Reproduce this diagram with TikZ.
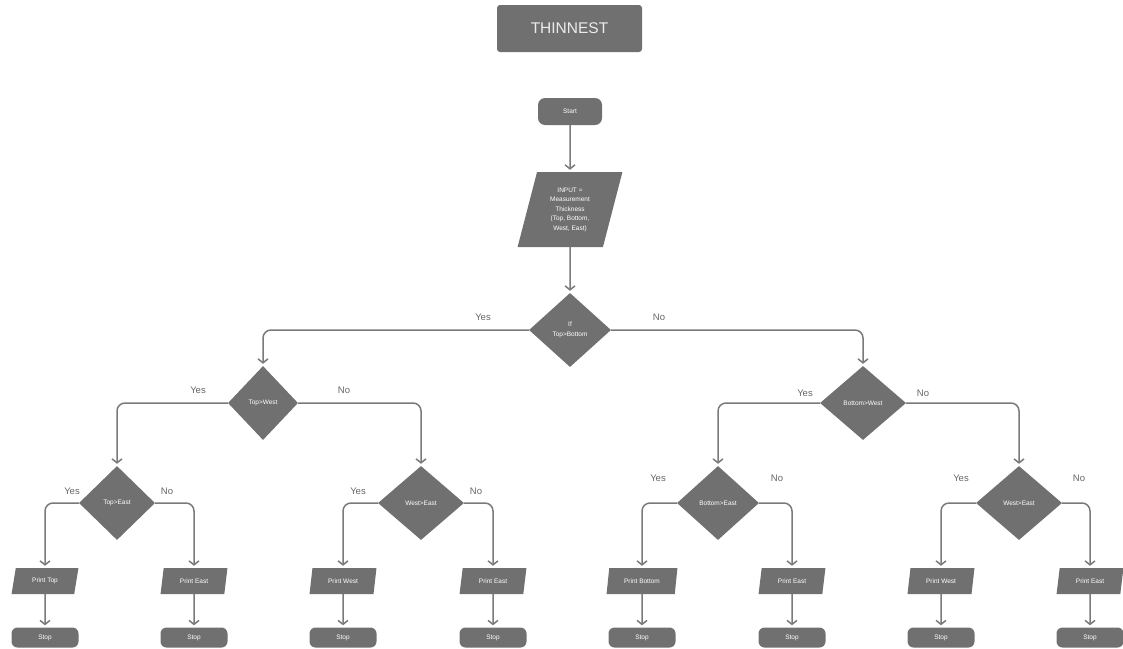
\documentclass[tikz,border=0pt]{standalone}
\usepackage{fontspec}
\setmainfont{Liberation Sans}
\usetikzlibrary{shapes.geometric,arrows.meta}
\definecolor{boxgray}{HTML}{707070}
\definecolor{linegray}{HTML}{7A7A7A}
\definecolor{lblgray}{HTML}{666666}
\begin{document}
\begin{tikzpicture}[x=1pt,y=-1pt,
  box/.style={fill=boxgray, text=white, font=\fontsize{6.5}{9.5}\selectfont, align=center, inner sep=0pt},
  term/.style={box, rounded corners=7pt, minimum width=64pt, minimum height=27pt},
  stopbox/.style={box, rounded corners=6pt, minimum width=67pt, minimum height=20pt},
  dec/.style={box, diamond, aspect=1, minimum width=#1, minimum height=74pt},
  para/.style={box, trapezium, trapezium left angle=73, trapezium right angle=107, trapezium stretches=true, minimum width=#1, minimum height=26pt},
  arr/.style={draw=linegray, line width=1.5pt, -{Straight Barb[length=4pt,width=10pt]}, shorten >=2pt},
  lbl/.style={text=lblgray, font=\fontsize{9.5}{11}\selectfont, inner sep=0pt}
]
\useasboundingbox (0,0) rectangle (1123,648);

\node[box, rounded corners=3pt, minimum width=145pt, minimum height=47pt, font=\fontsize{15.5}{18}\selectfont, text=white!92!black] (title) at (569.5,28.5) {THINNEST};

\node[term] (start) at (570,111.5) {Start};
\node[box, trapezium, trapezium left angle=75, trapezium right angle=105, trapezium stretches=true, minimum width=105pt, minimum height=75pt] (input) at (570,209.5) {INPUT =\\Measurement\\Thickness\\(Top, Bottom,\\West, East)};

\node[dec=82pt] (d0) at (570,330) {If\\Top>Bottom};
\node[dec=70pt] (d1) at (263,403) {Top>West};
\node[dec=86pt] (d2) at (863,403) {Bottom>West};
\node[dec=76pt] (d3) at (117,503) {Top>East};
\node[dec=86pt] (d4) at (421,503) {West>East};
\node[dec=82pt] (d5) at (718,503) {Bottom>East};
\node[dec=86pt] (d6) at (1019,503) {West>East};

\node[para=67pt] (p1) at (45,581) {Print Top};
\node[para=67pt] (p2) at (194,581) {Print East};
\node[para=67pt] (p3) at (343,581) {Print West};
\node[para=67pt] (p4) at (493,581) {Print East};
\node[para=71pt] (p5) at (642,581) {Print Bottom};
\node[para=67pt] (p6) at (792,581) {Print East};
\node[para=67pt] (p7) at (941,581) {Print West};
\node[para=67pt] (p8) at (1090,581) {Print East};

\node[stopbox] (s1) at (45,637.5) {Stop};
\node[stopbox] (s2) at (194,637.5) {Stop};
\node[stopbox] (s3) at (343,637.5) {Stop};
\node[stopbox] (s4) at (493,637.5) {Stop};
\node[stopbox] (s5) at (642,637.5) {Stop};
\node[stopbox] (s6) at (792,637.5) {Stop};
\node[stopbox] (s7) at (941,637.5) {Stop};
\node[stopbox] (s8) at (1090,637.5) {Stop};

\draw[arr] (start.south) -- (input.north);
\draw[arr] (input.south) -- (d0.north);

\draw[arr, rounded corners=8pt] (d0.west) -| (d1.north);
\draw[arr, rounded corners=8pt] (d0.east) -| (d2.north);
\draw[arr, rounded corners=8pt] (d1.west) -| (d3.north);
\draw[arr, rounded corners=8pt] (d1.east) -| (d4.north);
\draw[arr, rounded corners=8pt] (d2.west) -| (d5.north);
\draw[arr, rounded corners=8pt] (d2.east) -| (d6.north);
\draw[arr, rounded corners=8pt] (d3.west) -| (p1.north);
\draw[arr, rounded corners=8pt] (d3.east) -| (p2.north);
\draw[arr, rounded corners=8pt] (d4.west) -| (p3.north);
\draw[arr, rounded corners=8pt] (d4.east) -| (p4.north);
\draw[arr, rounded corners=8pt] (d5.west) -| (p5.north);
\draw[arr, rounded corners=8pt] (d5.east) -| (p6.north);
\draw[arr, rounded corners=8pt] (d6.west) -| (p7.north);
\draw[arr, rounded corners=8pt] (d6.east) -| (p8.north);

\foreach \i in {1,...,8} {\draw[arr] (p\i.south) -- (s\i.north);}

\node[lbl] (y0) at (483,317) {Yes};
\node[lbl] (n0) at (659,317) {No};
\node[lbl] (y1) at (198,390) {Yes};
\node[lbl] (n1) at (344,390) {No};
\node[lbl] (y2) at (805,393) {Yes};
\node[lbl] (n2) at (923,393) {No};
\node[lbl] (y3) at (72,491) {Yes};
\node[lbl] (n3) at (167,491) {No};
\node[lbl] (y4) at (358,491) {Yes};
\node[lbl] (n4) at (476,491) {No};
\node[lbl] (y5) at (658,478) {Yes};
\node[lbl] (n5) at (777,478) {No};
\node[lbl] (y6) at (961,478) {Yes};
\node[lbl] (n6) at (1079,478) {No};
\end{tikzpicture}
\end{document}
